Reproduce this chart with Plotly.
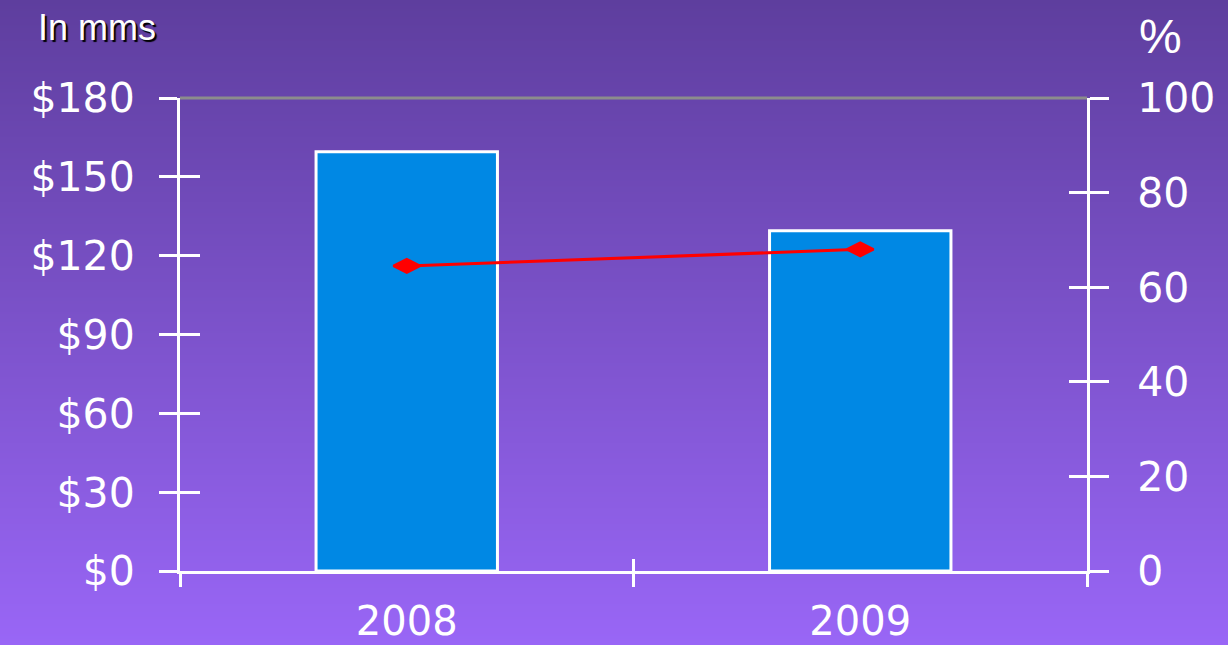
import zlib, struct, base64
import plotly.graph_objects as go

# ---- data ----
years = ["2008", "2009"]
revenue = [159.5, 129.5]      # $ mms (left axis)
percent = [64.5, 68.0]        # % (right axis)
left_ticks = [0, 30, 60, 90, 120, 150, 180]
left_labels = ["$0", "$30", "$60", "$90", "$120", "$150", "$180"]
right_ticks = [0, 20, 40, 60, 80, 100]

W, H = 1228, 645
ML, MR, MT, MB = 180, 141, 98, 74
PW, PH = W - ML - MR, H - MT - MB

def png_gradient(h, top, bot):
    rows = b""
    for i in range(h):
        t = i / (h - 1)
        c = bytes(int(round(top[k] + (bot[k] - top[k]) * t)) for k in range(3))
        rows += b"\x00" + c * 2
    def chunk(tag, data):
        return (struct.pack(">I", len(data)) + tag + data +
                struct.pack(">I", zlib.crc32(tag + data) & 0xffffffff))
    ihdr = struct.pack(">IIBBBBB", 2, h, 8, 2, 0, 0, 0)
    return (b"\x89PNG\r\n\x1a\n" + chunk(b"IHDR", ihdr) +
            chunk(b"IDAT", zlib.compress(rows)) + chunk(b"IEND", b""))

bg = "data:image/png;base64," + base64.b64encode(
    png_gradient(H, (94, 62, 158), (153, 102, 246))).decode()

WHITE = "white"
TICKFONT = dict(family="DejaVu Sans", size=41, color=WHITE)
XTICKFONT = dict(family="DejaVu Sans", size=40, color=WHITE)

fig = go.Figure()
fig.add_trace(go.Bar(x=years, y=revenue, width=0.4,
                     marker=dict(color="#0088E4", line=dict(color=WHITE, width=3)),
                     showlegend=False, hoverinfo="skip"))
fig.add_trace(go.Scatter(x=years, y=percent, yaxis="y2", mode="lines+markers",
                         line=dict(color="#FF0000", width=3),
                         marker=dict(symbol="diamond-wide", size=19, color="#FF0000",
                                     line=dict(color="#FF0000", width=2.5)),
                         showlegend=False, hoverinfo="skip"))
# helper invisible traces so overlay axes (inner ticks) render
fig.add_trace(go.Scatter(x=years, y=revenue, xaxis="x2", yaxis="y3", mode="markers",
                         marker=dict(opacity=0), showlegend=False, hoverinfo="skip"))
fig.add_trace(go.Scatter(x=years, y=percent, yaxis="y4", mode="markers",
                         marker=dict(opacity=0), showlegend=False, hoverinfo="skip"))

common_x = dict(type="category", categoryorder="array", categoryarray=years,
                range=[-0.5, 1.5], tickson="boundaries", showgrid=False,
                zeroline=False, tickcolor=WHITE, tickwidth=3, automargin=False)

fig.update_layout(
    width=W, height=H,
    margin=dict(l=ML, r=MR, t=MT, b=MB, pad=0, autoexpand=False),
    paper_bgcolor="#7B52C9", plot_bgcolor="rgba(0,0,0,0)",
    xaxis=dict(**common_x, anchor="y", ticks="outside", ticklen=13,
               showline=True, linecolor=WHITE, linewidth=3,
               tickfont=XTICKFONT, ticklabelstandoff=13),
    xaxis2=dict(**common_x, overlaying="x", anchor="y", ticks="inside", ticklen=12,
                showticklabels=False, showline=False),
    yaxis=dict(range=[0, 180], tickvals=left_ticks, ticktext=left_labels,
               ticks="outside", ticklen=18, tickwidth=3, tickcolor=WHITE,
               showline=True, linecolor=WHITE, linewidth=3, showgrid=False,
               zeroline=False, tickfont=TICKFONT, ticklabelstandoff=16,
               automargin=False),
    yaxis3=dict(range=[0, 180], tickvals=left_ticks, overlaying="y", side="left",
                anchor="x", ticks="inside", ticklen=20, tickwidth=3, tickcolor=WHITE,
                showticklabels=False, showline=False, showgrid=False, zeroline=False,
                automargin=False),
    yaxis2=dict(range=[0, 100], tickvals=right_ticks, overlaying="y", side="right",
                anchor="x", ticks="outside", ticklen=19, tickwidth=3, tickcolor=WHITE,
                showline=True, linecolor=WHITE, linewidth=3, showgrid=False,
                zeroline=False, tickfont=TICKFONT, ticklabelstandoff=20,
                automargin=False),
    yaxis4=dict(range=[0, 100], tickvals=right_ticks, overlaying="y", side="right",
                anchor="x", ticks="inside", ticklen=18, tickwidth=3, tickcolor=WHITE,
                showticklabels=False, showline=False, showgrid=False, zeroline=False,
                automargin=False),
    images=[dict(source=bg, xref="paper", yref="paper",
                 x=-ML / PW, y=1 + MT / PH, sizex=W / PW, sizey=H / PH,
                 xanchor="left", yanchor="top", sizing="stretch", layer="below")],
    shapes=[dict(type="line", xref="paper", yref="paper", x0=0, x1=1, y0=1, y1=1,
                 line=dict(color="#8C8C8C", width=3), layer="below")],
    annotations=[
        dict(text="In mms", xref="paper", yref="paper", x=(36 - ML) / PW,
             y=1 + (MT - 27) / PH, xanchor="left", yanchor="middle", showarrow=False,
             font=dict(family="Liberation Sans", size=36, color=WHITE,
                       shadow="2px 2px 1px #000000")),
        dict(text="%", xref="paper", yref="paper", x=(1160 - ML) / PW,
             y=1 + (MT - 36) / PH, xanchor="center", yanchor="middle", showarrow=False,
             font=dict(family="Liberation Sans", size=48, color=WHITE)),
    ],
)

fig.write_html("out.html")
